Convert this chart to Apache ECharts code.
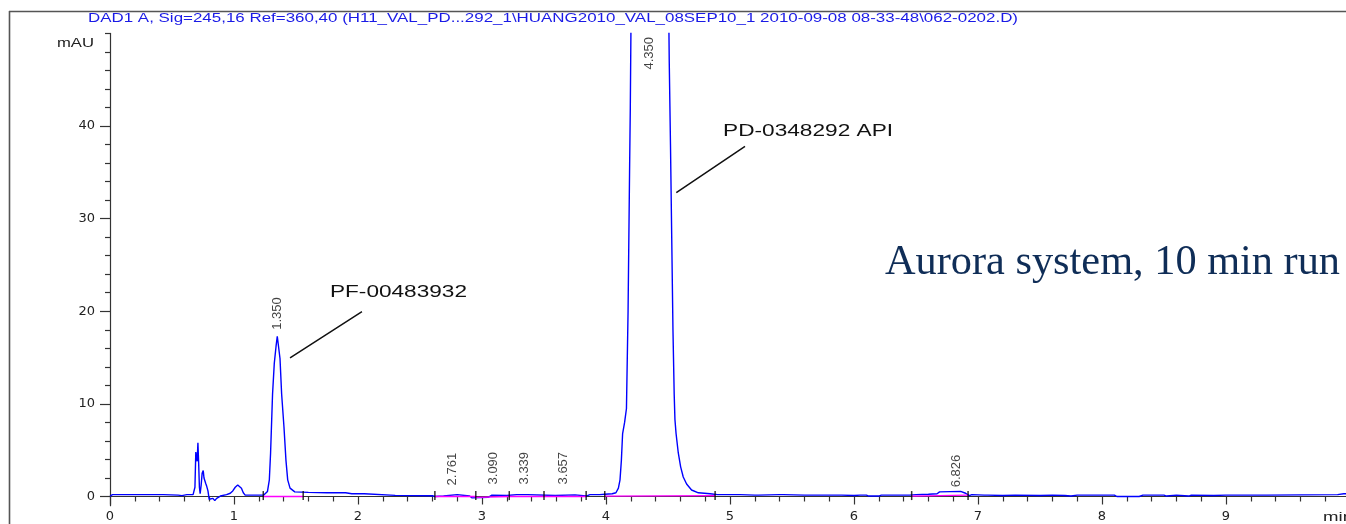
<!DOCTYPE html>
<html><head><meta charset="utf-8">
<script src="https://cdn.jsdelivr.net/npm/echarts@6/dist/echarts.min.js"></script>
<style>html,body{margin:0;padding:0;background:#fff;overflow:hidden}#c{width:1346px;height:524px;}</style>
</head><body><div id="c"></div>
<script>
// ---------------- DATA ----------------
const titleText = 'DAD1 A, Sig=245,16 Ref=360,40 (H11_VAL_PD...292_1\\HUANG2010_VAL_08SEP10_1 2010-09-08 08-33-48\\062-0202.D)';
const yUnit = 'mAU';
const xUnit = 'min';
const overlayText = 'Aurora system, 10 min run';

const xMajorTicks = [0,1,2,3,4,5,6,7,8,9,10];
const yLabelValues = [0,10,20,30,40];
const yMinorValues = [2,4,6,8,12,14,16,18,22,24,26,28,32,34,36,38,42,44,46,48,50];

// chromatogram trace: [time (min), signal (mAU)]
const trace = [
 [0.00,0.05],[0.02,0.2],[0.10,0.2],[0.11,0.08],[0.13,0.2],[0.40,0.2],[0.41,0.05],[0.43,0.2],
 [0.55,0.15],[0.58,0.1],[0.62,0.2],[0.67,0.2],[0.685,1.0],[0.692,4.8],[0.698,5.0],[0.703,3.8],
 [0.709,5.8],[0.715,3.6],[0.721,1.0],[0.727,0.3],[0.735,1.2],[0.743,2.5],[0.752,2.8],[0.758,2.0],
 [0.765,2.1],[0.772,1.4],[0.78,1.1],[0.79,0.6],[0.80,-0.3],[0.815,-0.45],[0.83,-0.2],[0.845,-0.45],
 [0.86,-0.2],[0.89,0.05],[0.94,0.2],[0.97,0.35],[0.99,0.6],[1.01,1.0],[1.03,1.25],[1.045,1.35],
 [1.06,0.9],[1.075,0.4],[1.09,0.15],[1.24,0.15],[1.255,0.3],[1.27,0.55],[1.285,1.8],[1.295,4.7],
 [1.304,8.3],[1.311,11.1],[1.325,14.4],[1.339,16.2],[1.349,17.3],[1.36,17.1],[1.371,14.9],[1.384,11.1],
 [1.403,7.5],[1.419,3.9],[1.433,1.8],[1.452,0.9],[1.49,0.5],[1.60,0.45],[1.75,0.4],[1.76,0.3],
 [1.80,0.4],[1.90,0.4],[1.95,0.3],[2.05,0.3],[2.06,0.15],[2.30,0.12],[2.60,0.08],[2.62,0.0],
 [2.69,0.05],[2.70,0.2],[2.80,0.2],[2.81,0.05],[2.90,0.05],[2.92,-0.15],[3.05,-0.1],[3.08,0.15],
 [3.20,0.1],[3.28,0.2],[3.37,0.2],[3.38,0.1],[3.59,0.1],[3.60,0.18],[3.75,0.18],[3.76,0.08],
 [3.84,0.05],[3.87,0.2],[3.95,0.2],[3.99,0.25],[4.05,0.3],[4.08,0.4],[4.10,0.9],[4.113,1.8],
 [4.124,3.9],[4.134,6.8],[4.15,8.0],[4.165,9.5],[4.178,20],[4.19,35],[4.196,42],[4.207,60],
 [4.25,200],[4.30,380],[4.35,450],[4.40,380],[4.45,220],[4.50,60],[4.51,47],[4.52,38],[4.53,28],
 [4.54,18],[4.55,11],[4.556,8.3],[4.565,6.8],[4.583,4.7],[4.602,3.2],[4.623,2.1],[4.65,1.35],
 [4.69,0.7],[4.745,0.4],[4.84,0.3],[4.90,0.2],[5.05,0.2],[5.06,0.05],[5.08,0.2],[5.20,0.15],
 [5.21,0.05],[5.23,0.15],[5.40,0.2],[5.41,0.05],[5.43,0.2],[5.60,0.15],[5.61,0.02],[5.63,0.15],
 [5.90,0.15],[6.00,0.1],[6.05,0.15],[6.10,0.15],[6.12,0.05],[6.20,0.05],[6.22,0.15],[6.45,0.15],
 [6.50,0.2],[6.60,0.25],[6.67,0.3],[6.69,0.5],[6.86,0.55],[6.90,0.35],[6.93,0.1],[6.95,0.2],
 [7.05,0.15],[7.06,0.0],[7.08,0.15],[7.20,0.1],[7.30,0.15],[7.50,0.1],[7.60,0.15],[7.70,0.1],
 [7.75,0.05],[7.80,0.15],[8.10,0.15],[8.12,0.0],[8.30,0.0],[8.33,0.15],[8.50,0.15],[8.52,0.05],
 [8.60,0.15],[8.70,0.05],[8.72,0.15],[8.90,0.1],[9.00,0.15],[9.30,0.15],[9.31,0.05],[9.33,0.15],
 [9.90,0.2],[9.95,0.3],[10.0,0.3]
];

// integration baselines (start, end) with signal levels
const baselineSegments = [
 [[1.236,0.0],[1.558,0.0]],
 [[2.62,0.0],[2.95,0.0]],
 [[2.95,-0.1],[3.22,0.0]],
 [[3.22,0.0],[3.50,0.0]],
 [[3.50,0.0],[3.84,0.0]],
 [[3.99,0.05],[4.88,0.1]],
 [[6.465,0.05],[6.92,0.15]]
];
// integration event markers (time)
const eventTimes = [1.236,1.558,2.62,2.95,3.22,3.50,3.84,3.99,4.88,6.465,6.92];
// peak retention times and the signal level where their labels start
const peakTimes  = [1.350, 2.761, 3.090, 3.339, 3.657, 4.350, 6.826];
const peakLabelY = [18.0, 1.2, 1.3, 1.3, 1.3, 46.1, 1.0];
// compound annotations
const compoundNames = ['PF-00483932', 'PD-0348292 API'];
const compoundTextAt = [[1.774,22.0],[4.944,39.4]];
const compoundLeader = [[[1.452,14.97],[2.032,19.95]], [[4.567,32.8],[5.121,37.8]]];

// ---------------- CHART ----------------
const chart = echarts.init(document.getElementById('c'), null, {renderer:'canvas'});
const axisColor = '#333';
const labelFont = 'DejaVu Sans';

const gapped = segs => { const out=[]; segs.forEach((s,i)=>{ s.forEach(p=>out.push(p)); if(i<segs.length-1) out.push([s[1][0]+0.001,'-']); }); return out; };

chart.setOption({
  animation:false,
  backgroundColor:'#fff',
  grid:{left:110, right:-4, top:33.4, bottom:18.24, containLabel:false, outerBoundsMode:'none'},
  xAxis:{type:'value', min:0, max:10, interval:1,
    axisLine:{show:true, onZero:true, lineStyle:{color:axisColor, width:1.2}},
    axisTick:{show:true, length:8, lineStyle:{color:axisColor, width:1.2}},
    minorTick:{show:true, splitNumber:5, length:5, lineStyle:{color:axisColor, width:1.2}},
    axisLabel:{margin:4.5, color:'#222', fontFamily:labelFont, fontSize:13,
      formatter:v=> (v===10?'':String(v))},
    splitLine:{show:false}
  },
  yAxis:[
    {type:'value', min:-1, max:50, position:'left',
     axisLine:{show:true, onZero:false, lineStyle:{color:axisColor, width:1.2}},
     axisTick:{show:true, length:10, customValues:yLabelValues, lineStyle:{color:axisColor, width:1.2}},
     axisLabel:{show:true, customValues:yLabelValues, margin:15, color:'#222', fontFamily:labelFont, fontSize:13},
     splitLine:{show:false}},
    {type:'value', min:-1, max:50, position:'left',
     axisLine:{show:false},
     axisTick:{show:true, length:5, customValues:yMinorValues, lineStyle:{color:axisColor, width:1.2}},
     axisLabel:{show:false, customValues:yMinorValues},
     splitLine:{show:false}}
  ],
  series:[
    {type:'line', name:'signal', data:trace, symbol:'none', clip:true,
     lineStyle:{color:'#0000ff', width:1.4}, z:3},
    {type:'line', name:'baseline', data:gapped(baselineSegments), symbol:'none', connectNulls:false, clip:true,
     lineStyle:{color:'#ff00ff', width:1.3}, z:4},
    {type:'scatter', name:'events', data:eventTimes.map(t=>[t,0.1]), symbol:'rect', symbolSize:[1.5,9],
     itemStyle:{color:'#000'}, z:5},
    {type:'scatter', name:'peaks', data:peakTimes.map((t,i)=>[t,peakLabelY[i]]), symbolSize:0,
     label:{show:true, position:'inside', rotate:90, align:'left', verticalAlign:'middle',
       formatter:p=>p.value[0].toFixed(3), color:'#111', fontFamily:'Liberation Sans', fontSize:13}, z:6},
    {type:'line', name:'leaders', data:gapped(compoundLeader), symbol:'none', connectNulls:false,
     lineStyle:{color:'#111', width:1.5}, z:6}
  ]
});

function textWidth(text, font){ const c=document.createElement('canvas').getContext('2d'); c.font=font; return c.measureText(text).width; }
function stretched(text, x, y, size, family, color, targetWidth, extra){
  const w = textWidth(text, size+'px '+family);
  return Object.assign({type:'text', x:x, y:y, scaleX: targetWidth? targetWidth/w : 1, z:100,
    style:{text:text, fontSize:size, fontFamily:family, fill:color, textAlign:'left', align:'left', verticalAlign:'middle', textVerticalAlign:'middle'}}, extra||{});
}
const graphics = [
  {type:'line', shape:{x1:9.5,y1:11,x2:9.5,y2:524}, style:{stroke:'#555', lineWidth:1.6}, z:100},
  {type:'line', shape:{x1:9,y1:11.5,x2:1346,y2:11.5}, style:{stroke:'#555', lineWidth:1.6}, z:100},
  stretched(titleText, 88, 18.5, 12.5, 'Liberation Sans', '#1a1ae6', 930),
  stretched(yUnit, 57, 43, 13, 'Liberation Sans', '#222', 37),
  stretched(xUnit, 1323, 517, 13, 'Liberation Sans', '#222', 30),
  stretched(overlayText, 885, 263, 42, 'Liberation Serif', '#0f2d57', 455)
];
const compoundWidths = [137, 170];
compoundNames.forEach((name,i)=>{
  const p = chart.convertToPixel({xAxisIndex:0, yAxisIndex:0}, compoundTextAt[i]);
  graphics.push(stretched(name, p[0], p[1], 17, 'Liberation Sans', '#111', compoundWidths[i]));
});
chart.setOption({graphic:graphics});
</script></body></html>
